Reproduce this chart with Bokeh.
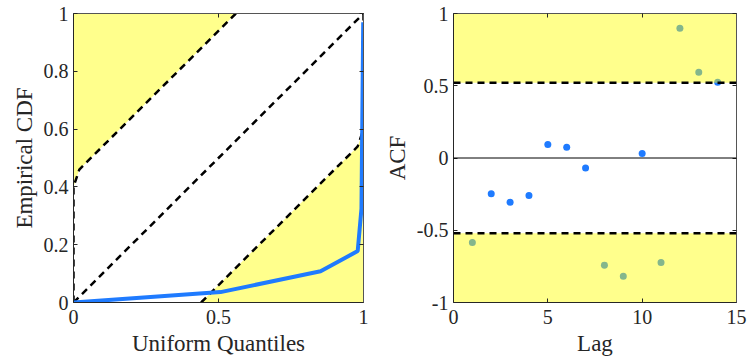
from bokeh.plotting import figure
from bokeh.layouts import row
from bokeh.models import (Range1d, FixedTicker, LinearAxis, Span,
                          CustomJSTickFormatter)
from bokeh.embed import file_html
from bokeh.resources import INLINE

# ---------------- data ----------------
# Left panel: empirical CDF vs uniform quantiles
cdf_x = [0.0, 0.507, 0.852, 0.98, 0.993, 0.999]
cdf_y = [0.0, 0.036, 0.108, 0.178, 0.325, 0.97]
diag_x = [0.0, 1.0]
diag_y = [0.0, 1.0]
upper_x = [0.0, 0.0, 0.02, 0.56]
upper_y = [0.0, 0.40, 0.46, 1.0]
lower_x = [0.44, 0.98, 1.0, 1.0]
lower_y = [0.0, 0.54, 0.60, 1.0]
left_xticks = [0, 0.5, 1]
left_xlabels = ["0", "0.5", "1"]
left_yticks = [0, 0.2, 0.4, 0.6, 0.8, 1]
left_ylabels = ["0", "0.2", "0.4", "0.6", "0.8", "1"]

# Right panel: autocorrelation
lags = [1, 2, 3, 4, 5, 6, 7, 8, 9, 10, 11, 12, 13, 14]
acf = [-0.585, -0.248, -0.306, -0.26, 0.093, 0.075, -0.07,
       -0.742, -0.818, 0.031, -0.723, 0.898, 0.594, 0.525]
acf_bound = 0.52
right_xticks = [0, 5, 10, 15]
right_xlabels = ["0", "5", "10", "15"]
right_yticks = [-1, -0.5, 0, 0.5, 1]
right_ylabels = ["-1", "-0.5", "0", "0.5", "1"]

FONT = "Liberation Serif"
TXT = "#262626"
BLUE = "#1f7bff"
YELLOW = "#ffff00"
TICK_FS = "20px"
LAB_FS = "23px"


def labels_formatter(labels):
    return CustomJSTickFormatter(args=dict(labels=labels),
                                 code="return labels[index];")


def style_axes(p, xticks, xlabels, yticks, ylabels, xlabel, ylabel):
    p.grid.visible = False
    p.outline_line_color = None
    for ax, ticks, labs, lab in ((p.xaxis[0], xticks, xlabels, xlabel),
                                 (p.yaxis[0], yticks, ylabels, ylabel)):
        ax.ticker = FixedTicker(ticks=ticks)
        ax.formatter = labels_formatter(labs)
        ax.minor_tick_line_color = None
        ax.major_tick_in = 4
        ax.major_tick_out = 0
        ax.major_tick_line_color = TXT
        ax.axis_line_color = TXT
        ax.major_label_text_font = FONT
        ax.major_label_text_font_size = TICK_FS
        ax.major_label_text_color = TXT
        ax.axis_label = lab
        ax.axis_label_text_font = FONT
        ax.axis_label_text_font_size = LAB_FS
        ax.axis_label_text_font_style = "normal"
        ax.axis_label_text_color = TXT
    p.xaxis[0].major_label_standoff = 7
    p.yaxis[0].major_label_standoff = 5
    p.xaxis[0].axis_label_standoff = 4
    p.yaxis[0].axis_label_standoff = 4
    for loc, ticks in (("above", xticks), ("right", yticks)):
        ax = LinearAxis(ticker=FixedTicker(ticks=ticks),
                        formatter=CustomJSTickFormatter(code="return '';"))
        ax.major_label_text_font_size = "1px"
        ax.major_label_standoff = 0
        ax.minor_tick_line_color = None
        ax.major_tick_in = 4
        ax.major_tick_out = 0
        ax.major_tick_line_color = TXT
        ax.axis_line_color = "#555555"
        p.add_layout(ax, loc)


# ---------------- left figure ----------------
p1 = figure(frame_width=290, frame_height=289, output_backend="svg",
            toolbar_location=None,
            x_range=Range1d(0, 1), y_range=Range1d(0, 1),
            min_border_left=73, min_border_right=17,
            min_border_top=13, min_border_bottom=58)
p1.patch(upper_x + [0.0], upper_y + [1.0], fill_color=YELLOW, fill_alpha=0.45,
         line_color=None)
p1.patch(lower_x + [1.0], lower_y + [0.0], fill_color=YELLOW, fill_alpha=0.45,
         line_color=None)
p1.line(diag_x, diag_y, line_color="black", line_width=2.5, line_dash="7 5")
p1.line(upper_x, upper_y, line_color="black", line_width=2.5, line_dash="7 5")
p1.line(lower_x, lower_y, line_color="black", line_width=2.5, line_dash="7 5")
p1.line(cdf_x, cdf_y, line_color=BLUE, line_width=4)
style_axes(p1, left_xticks, left_xlabels, left_yticks, left_ylabels,
           "Uniform Quantiles", "Empirical CDF")

# ---------------- right figure ----------------
p2 = figure(frame_width=283, frame_height=289, output_backend="svg",
            toolbar_location=None,
            x_range=Range1d(0, 15), y_range=Range1d(-1, 1),
            min_border_left=73, min_border_right=11,
            min_border_top=13, min_border_bottom=58)
p2.scatter(lags, acf, size=7, fill_color=BLUE, line_color=None)
p2.quad(left=[0], right=[15], bottom=[acf_bound], top=[1],
        fill_color=YELLOW, fill_alpha=0.45, line_color=None)
p2.quad(left=[0], right=[15], bottom=[-1], top=[-acf_bound],
        fill_color=YELLOW, fill_alpha=0.45, line_color=None)
p2.add_layout(Span(location=0, dimension="width", line_color="black",
                   line_width=1))
p2.add_layout(Span(location=acf_bound, dimension="width", line_color="black",
                   line_width=2.5, line_dash="7 5"))
p2.add_layout(Span(location=-acf_bound, dimension="width", line_color="black",
                   line_width=2.5, line_dash="7 5"))
style_axes(p2, right_xticks, right_xlabels, right_yticks, right_ylabels,
           "Lag", "ACF")

layout = row(p1, p2)
open("out.html", "w").write(file_html(layout, INLINE))
